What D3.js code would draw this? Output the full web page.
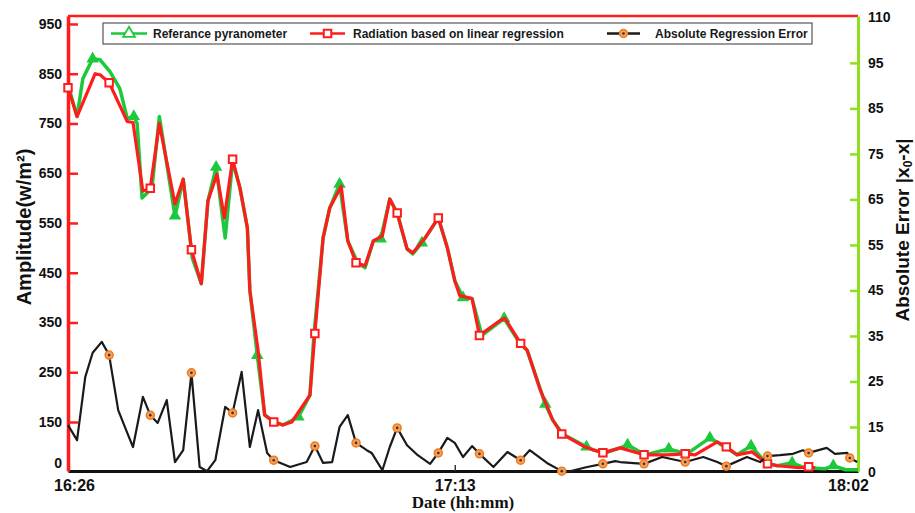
<!DOCTYPE html>
<html>
<head>
<meta charset="utf-8">
<script src="https://cdn.jsdelivr.net/npm/d3@7"></script>
<style>
    html, body {margin: 0; padding: 0; background: #fff;}
    svg {display: block; font-family: "Liberation Sans", Arial, sans-serif;}
</style>
</head>
<body>
<svg id="chart" width="915" height="513"></svg>
<script>
// minutes after 16:26
const regTime = [0, 1.1, 3.3, 3.9, 5, 7.2, 7.9, 9.1, 10, 11.1, 13, 14, 15, 16.2, 17, 18.1, 19, 20, 20.9, 21.8,
    22.1, 23.1, 23.9, 25, 26.1, 27.2, 29.4, 30, 31, 31.8, 33.2, 34, 35, 36.1, 37.1, 38.2, 39.1, 40, 41.2, 41.9,
    43.4, 45, 46.1, 47, 47.6, 49.1, 50, 52.5, 53.1, 55, 55.8, 57.4, 58.9, 60, 62.8, 63.8, 65, 67.1, 70, 72.8,
    75, 76.2, 78.9, 80, 81.3, 83.1, 85, 86.2, 88.9, 90, 90.8];
const regValue = [822, 764, 850, 848, 832, 754, 752, 614, 620, 750, 588, 638, 496, 428, 594, 648, 560, 678, 620, 540,
    414, 294, 164, 150, 144, 150, 204, 328, 520, 580, 624, 514, 470, 464, 514, 524, 598, 570, 498, 490,
    520, 560, 500, 434, 404, 398, 324, 354, 358, 308, 294, 214, 154, 126, 100, 94, 88, 98, 84, 84,
    86, 84, 110, 100, 84, 90, 66, 62, 58, 60, 58];

const refTime = [0, 1.1, 1.8, 3, 3.9, 5.1, 6.3, 7.2, 8, 8.4, 9, 10.2, 11.1, 13, 14, 15.1, 16.2, 17, 18, 19.1,
    20, 20.9, 21.8, 22.1, 23, 23.9, 25.1, 26.1, 28, 29.4, 29.9, 31, 31.8, 33, 34, 35.2, 36.1, 37.1, 38, 39.1,
    40, 41.2, 41.9, 43, 45, 46.1, 47, 48, 49.1, 50.3, 53, 54.9, 55.8, 58, 58.9, 60.1, 63, 63.8, 65.3, 67.1,
    68, 70.1, 73, 75.2, 78, 79.8, 81.3, 83, 84.8, 86.2, 88, 89.5, 92, 93, 94.5, 96];
const refValue = [828, 764, 840, 880, 878, 854, 820, 760, 764, 750, 600, 620, 764, 564, 638, 480, 428, 594, 662, 520,
    674, 620, 540, 414, 284, 164, 150, 144, 160, 204, 328, 520, 580, 628, 514, 470, 460, 514, 518, 598,
    570, 498, 488, 510, 560, 500, 434, 400, 398, 324, 358, 308, 294, 186, 154, 126, 100, 94, 88, 98,
    104, 84, 96, 86, 118, 100, 84, 102, 68, 62, 68, 58, 56, 62, 54, 54];

const errTime = [0, 1.1, 2.1, 3, 4.1, 5, 6.1, 7.2, 7.9, 9.1, 10, 10.9, 12, 13, 14, 15, 16, 16.9, 17.9, 19.1,
    20, 21.1, 22.1, 23.1, 24.2, 25, 27, 29, 30, 31, 32.1, 33, 34, 35, 36.3, 36.9, 38.2, 39.1, 40, 41.2,
    42.5, 44, 45, 46.1, 47, 48, 49.1, 50, 51.7, 53.4, 55, 56.1, 58.2, 60, 60.6, 63.1, 65, 66.5, 67.1, 70,
    72.2, 75, 77.2, 78.9, 80, 82.5, 84.1, 85, 86.5, 88.1, 89.3, 90, 92.2, 93.2, 94.7, 95, 95.9];
const errValue = [15.4, 12.1, 26, 31.3, 33.7, 30.8, 18.7, 13.7, 10.6, 21.6, 17.6, 15.9, 20.9, 7.3, 9.9, 26.9, 6.2, 5.3, 7.7, 19.4,
    18.1, 27.1, 10.6, 18.7, 9.3, 7.7, 6.2, 7.3, 10.8, 7.1, 7.3, 15, 17.6, 11.5, 9.9, 9.3, 5.5, 10.6, 14.8, 11,
    8.8, 6.9, 9.3, 12.6, 11.5, 8.4, 10.8, 9.1, 6.2, 9.5, 7.7, 9.9, 7.1, 5.3, 5.1, 6.2, 6.9, 7.5, 7.3, 6.9,
    8.4, 7.3, 8.4, 7.3, 6.4, 8.4, 7.3, 8.6, 8.8, 9.1, 9.9, 9.3, 10.4, 9.1, 9.3, 8.2, 7.3];

const leftTicks = [68, 150, 250, 350, 450, 550, 650, 750, 850, 950];
const leftTickLabels = ["0", "150", "250", "350", "450", "550", "650", "750", "850", "950"];
const rightTicks = [5, 15, 25, 35, 45, 55, 65, 75, 85, 95, 105];
const rightTickLabels = ["0", "15", "25", "35", "45", "55", "65", "75", "85", "95", "110"];
const timeTicks = ["16:26", "17:13", "18:02"];

const seriesNames = ["Referance pyranometer", "Radiation based on linear regression", "Absolute Regression Error"];

const GREEN = "#1dc93c", RED = "#ff1c1c", LIME = "#8ee01c", ORANGE = "#f6a05a";

const svg = d3.select("#chart");
const plot = {left: 68, right: 858, top: 16, bottom: 471};

const parseHM = d3.timeParse("%H:%M");
const t0 = parseHM(timeTicks[0]);
const toDate = m => new Date(t0.getTime() + m * 60000);

const x = d3.scaleTime().domain([t0, parseHM(timeTicks[2])]).range([plot.left, plot.right]);
const yL = d3.scaleLinear().domain([51.5, 966]).range([plot.bottom, plot.top]);
const yR = d3.scaleLinear().domain([5.33, 105.3]).range([plot.bottom, plot.top]);

const zip = (ts, vs) => ts.map((t, i) => ({t: t, v: vs[i]}));
const reg = zip(regTime, regValue), ref = zip(refTime, refValue), err = zip(errTime, errValue);

// frame: top red line
svg.append("line")
    .attr("x1", plot.left).attr("x2", plot.right).attr("y1", plot.top).attr("y2", plot.top)
    .attr("stroke", RED).attr("stroke-width", 2.5);

// bottom axis
const xAxis = svg.append("g")
    .attr("transform", `translate(0,${plot.bottom})`)
    .call(d3.axisBottom(x)
        .tickValues(timeTicks.map(parseHM))
        .tickFormat(d3.timeFormat("%H:%M"))
        .tickSizeInner(-6).tickSizeOuter(0).tickPadding(9));
xAxis.select(".domain").attr("stroke", "#111").attr("stroke-width", 3);
xAxis.selectAll(".tick line").attr("stroke", "#333").attr("stroke-width", 1.5)
    .attr("opacity", (d, i) => i === 1 ? 1 : 0);
xAxis.selectAll(".tick text")
    .attr("font-size", 16).attr("font-weight", "bold").attr("fill", "#111")
    .attr("font-family", "Liberation Sans, Arial, sans-serif")
    .attr("dx", (d, i) => i === 0 ? 6 : i === 2 ? -10 : 0);

// left axis
const lAxis = svg.append("g")
    .attr("transform", `translate(${plot.left},0)`)
    .call(d3.axisLeft(yL)
        .tickValues(leftTicks)
        .tickFormat((d, i) => leftTickLabels[i])
        .tickSizeInner(-10).tickSizeOuter(0).tickPadding(6));
lAxis.select(".domain").attr("stroke", RED).attr("stroke-width", 3.5);
lAxis.selectAll(".tick line").attr("stroke", RED).attr("stroke-width", 2.5)
    .attr("opacity", (d, i) => i === 0 ? 0 : 1);
lAxis.selectAll(".tick text")
    .attr("font-size", 14).attr("font-weight", "bold").attr("fill", "#111")
    .attr("font-family", "Liberation Sans, Arial, sans-serif");

// right axis
const rAxis = svg.append("g")
    .attr("transform", `translate(${plot.right},0)`)
    .call(d3.axisRight(yR)
        .tickValues(rightTicks)
        .tickFormat((d, i) => rightTickLabels[i])
        .tickSizeInner(-8).tickSizeOuter(0).tickPadding(10));
rAxis.select(".domain").attr("stroke", LIME).attr("stroke-width", 3);
rAxis.selectAll(".tick line").attr("stroke", LIME).attr("stroke-width", 2.5)
    .attr("opacity", (d, i) => (i === 0 || i === rightTicks.length - 1) ? 0 : 1);
rAxis.selectAll(".tick text")
    .attr("font-size", 14).attr("font-weight", "bold").attr("fill", "#111")
    .attr("font-family", "Liberation Sans, Arial, sans-serif");

// axis titles
svg.append("text")
    .attr("transform", "translate(31,227) rotate(-90)")
    .attr("text-anchor", "middle")
    .attr("font-size", 20).attr("font-weight", "bold").attr("fill", "#111")
    .text("Amplitude(w/m²)");

const rTitle = svg.append("text")
    .attr("transform", "translate(909,230) rotate(-90)")
    .attr("text-anchor", "middle")
    .attr("font-size", 19).attr("font-weight", "bold").attr("fill", "#111");
rTitle.append("tspan").text("Absolute Error |x");
rTitle.append("tspan").attr("font-size", 12).attr("dy", 3).text("0");
rTitle.append("tspan").attr("dy", -3).text("-x|");

svg.append("text")
    .attr("x", 463).attr("y", 508)
    .attr("text-anchor", "middle")
    .attr("font-family", "Liberation Serif, Times New Roman, serif")
    .attr("font-size", 17).attr("font-weight", "bold").attr("fill", "#111")
    .text("Date (hh:mm)");

// data
const lineL = d3.line().x(d => x(toDate(d.t))).y(d => yL(d.v));
const lineR = d3.line().x(d => x(toDate(d.t))).y(d => yR(d.v));

const tri = d3.symbol().type(d3.symbolTriangle).size(42);
const sq = d3.symbol().type(d3.symbolSquare).size(56);

svg.append("path").datum(ref)
    .attr("d", lineL).attr("fill", "none")
    .attr("stroke", GREEN).attr("stroke-width", 3.5).attr("stroke-linejoin", "round");

svg.append("g").selectAll("path")
    .data(ref.filter(d => (d.t - 3) % 5 === 0))
    .join("path")
    .attr("d", tri)
    .attr("transform", d => `translate(${x(toDate(d.t))},${yL(d.v)})`)
    .attr("fill", GREEN).attr("stroke", GREEN).attr("stroke-width", 1.5);

svg.append("path").datum(reg)
    .attr("d", lineL).attr("fill", "none")
    .attr("stroke", RED).attr("stroke-width", 3.2).attr("stroke-linejoin", "round");

svg.append("g").selectAll("path")
    .data(reg.filter(d => d.t % 5 === 0))
    .join("path")
    .attr("d", sq)
    .attr("transform", d => `translate(${x(toDate(d.t))},${yL(d.v)})`)
    .attr("fill", "#fff").attr("stroke", RED).attr("stroke-width", 2);

svg.append("path").datum(err)
    .attr("d", lineR).attr("fill", "none")
    .attr("stroke", "#1a1a1a").attr("stroke-width", 2.2).attr("stroke-linejoin", "round");

const dots = svg.append("g").selectAll("g")
    .data(err.filter(d => d.t > 0 && d.t % 5 === 0))
    .join("g")
    .attr("transform", d => `translate(${x(toDate(d.t))},${yR(d.v)})`);
dots.append("circle").attr("r", 4).attr("fill", ORANGE).attr("stroke", "#f07a1e").attr("stroke-width", 1.5);
dots.append("circle").attr("r", 1.3).attr("fill", "#333");

// legend
const legend = svg.append("g");
legend.append("rect")
    .attr("x", 103).attr("y", 23).attr("width", 709).attr("height", 21)
    .attr("fill", "#fff").attr("stroke", "#555").attr("stroke-width", 1.2);

const legendItems = [
    {x: 111, w: 36, text: 153, color: GREEN, mark: "tri"},
    {x: 310, w: 35, text: 353, color: RED, mark: "sq"},
    {x: 607, w: 33, text: 655, color: "#1a1a1a", mark: "dot"}
];
legendItems.forEach((it, i) => {
    const cy = 33.5, cx = it.x + it.w / 2;
    legend.append("line")
        .attr("x1", it.x).attr("x2", it.x + it.w).attr("y1", cy).attr("y2", cy)
        .attr("stroke", it.color).attr("stroke-width", 2.5);
    if (it.mark === "tri") {
        legend.append("path").attr("d", d3.symbol().type(d3.symbolTriangle).size(60))
            .attr("transform", `translate(${cx},${cy})`)
            .attr("fill", "#fff").attr("stroke", GREEN).attr("stroke-width", 1.8);
    } else if (it.mark === "sq") {
        legend.append("path").attr("d", sq)
            .attr("transform", `translate(${cx},${cy})`)
            .attr("fill", "#fff").attr("stroke", RED).attr("stroke-width", 2);
    } else {
        legend.append("circle").attr("cx", cx).attr("cy", cy).attr("r", 4)
            .attr("fill", ORANGE).attr("stroke", "#f07a1e").attr("stroke-width", 1.5);
        legend.append("circle").attr("cx", cx).attr("cy", cy).attr("r", 1.3).attr("fill", "#333");
    }
    legend.append("text")
        .attr("x", it.text).attr("y", cy + 4.5)
        .attr("font-size", 12).attr("font-weight", "bold").attr("fill", "#1a1a1a")
        .text(seriesNames[i]);
});
</script>
</body>
</html>
